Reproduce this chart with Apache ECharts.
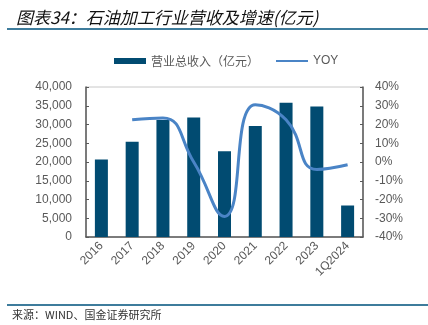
<!DOCTYPE html>
<html><head><meta charset="utf-8">
<script src="https://cdn.jsdelivr.net/npm/echarts@6/dist/echarts.min.js"></script>
<style>html,body{margin:0;padding:0;background:#fff}#c{width:428px;height:325px}</style>
</head><body><div id="c"></div>
<script>
const categories = ['2016','2017','2018','2019','2020','2021','2022','2023','1Q2024'];
const revenue = [20700, 25400, 31200, 31900, 22900, 29600, 35800, 34800, 8400];
const yoy = [null, 22.5, 23.5, 0, -29, 30.5, 22.5, -4, -1.5];
const leftTicks = {min: 0, max: 40000, interval: 5000};
const rightTicks = {min: -40, max: 40, interval: 10};

const axisColor = '#595959';
const labelStyle = {color: '#595959', fontSize: 12, fontFamily: 'Liberation Sans, Arial, sans-serif'};
const chart = echarts.init(document.getElementById('c'), null, {renderer: 'canvas'});
chart.setOption({
  animation: false,
  backgroundColor: '#fff',
  title: {
    text: '图表34：石油加工行业营收及增速(亿元)',
    left: 11, top: 4,
    textStyle: {fontSize: 17, fontStyle: 'italic', fontWeight: 'normal', color: '#111', fontFamily: 'Noto Sans CJK SC'}
  },
  graphic: [
    {type: 'line', shape: {x1: 7, y1: 29, x2: 428, y2: 29}, style: {stroke: '#3e7c9c', lineWidth: 2}},
    {type: 'line', shape: {x1: 7, y1: 305, x2: 428, y2: 305}, style: {stroke: '#3e7c9c', lineWidth: 2}},
    {type: 'text', left: 12, top: 309, style: {text: '来源：WIND、国金证券研究所', fill: '#333', font: '11px "Noto Sans CJK SC"'}}
  ],
  legend: [
    {data: ['营业总收入（亿元）'], left: 109, top: 50, itemWidth: 32, itemHeight: 6, icon: 'rect', itemGap: 4,
     textStyle: {color: '#595959', fontSize: 12, fontFamily: 'Noto Sans CJK SC'}},
    {data: ['YOY'], left: 271, top: 50, itemWidth: 32, itemHeight: 2, icon: 'rect',
     textStyle: {color: '#595959', fontSize: 12, fontFamily: 'Liberation Sans, Arial'}}
  ],
  grid: {left: 86, right: 65, top: 87, bottom: 88, show: true, borderColor: '#c8c8c8', borderWidth: 1},
  xAxis: {
    type: 'category', data: categories,
    axisLine: {lineStyle: {color: axisColor, width: 1.5}},
    axisTick: {inside: true, length: 3, lineStyle: {color: axisColor}},
    axisLabel: Object.assign({rotate: 45, margin: 7}, labelStyle)
  },
  yAxis: [
    {type: 'value', min: leftTicks.min, max: leftTicks.max, interval: leftTicks.interval,
     axisLine: {show: true, lineStyle: {color: axisColor, width: 1.5}},
     axisTick: {show: true, inside: true, length: 3, lineStyle: {color: axisColor}},
     splitLine: {show: false},
     axisLabel: Object.assign({margin: 14, formatter: v => v.toLocaleString('en-US')}, labelStyle)},
    {type: 'value', min: rightTicks.min, max: rightTicks.max, interval: rightTicks.interval,
     axisLine: {show: true, lineStyle: {color: axisColor, width: 1.5}},
     axisTick: {show: true, inside: true, length: 3, lineStyle: {color: axisColor}},
     splitLine: {show: false},
     axisLabel: Object.assign({margin: 12, formatter: '{value}%'}, labelStyle)}
  ],
  series: [
    {name: '营业总收入（亿元）', type: 'bar', data: revenue, barWidth: 13, yAxisIndex: 0,
     itemStyle: {color: '#014b71'}},
    {name: 'YOY', type: 'line', data: yoy, yAxisIndex: 1, smooth: 0.5, showSymbol: false, symbol: 'none',
     connectNulls: false, lineStyle: {color: '#4a84c6', width: 3}, itemStyle: {color: '#4a84c6'}}
  ]
});
</script></body></html>
